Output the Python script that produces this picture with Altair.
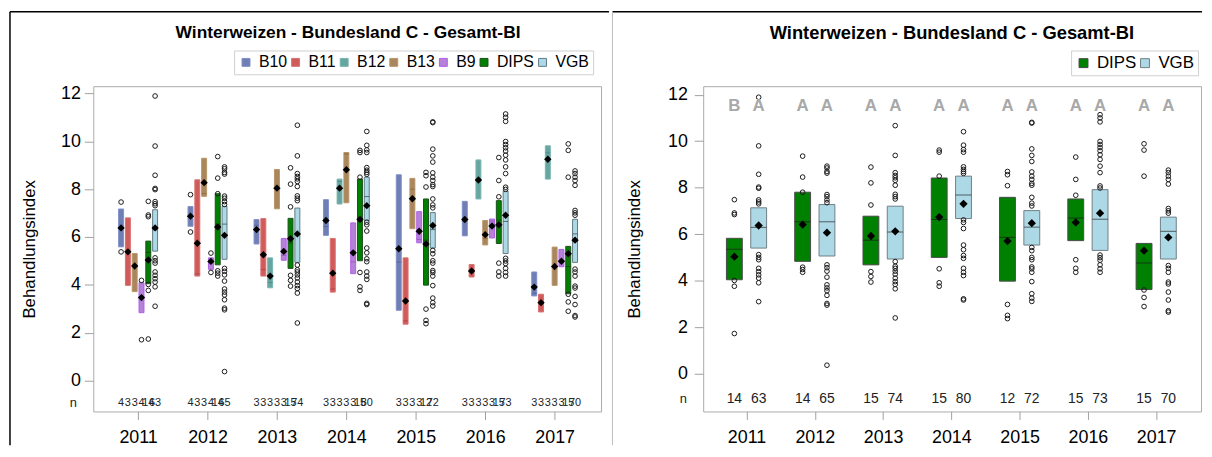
import altair as alt
import pandas as pd

years = [2011, 2012, 2013, 2014, 2015, 2016, 2017]
groups_left = ["B10", "B11", "B12", "B13", "B9", "DIPS", "VGB"]
groups_right = ["DIPS", "VGB"]
title_head = "Winterweizen - Bundesland C -"
title_tail = "Gesamt-BI"

# ---- sample sizes (None = group not present in that year)
n_B10 = [4, 4, 3, 3, 3, 3, 3]
n_B11 = [3, 3, 3, 3, 3, 3, 3]
n_B12 = [None, None, 3, 3, None, 3, 3]
n_B13 = [3, 3, 3, 3, 3, 3, 3]
n_B9 = [4, 4, 3, 3, 3, 3, 3]
n_DIPS = [14, 14, 15, 15, 12, 15, 15]
n_VGB = [63, 65, 74, 80, 72, 73, 70]

# ---- box statistics
q1_B10 = [5.59, 6.45, 5.71, 6.07, 2.94, 6.05, 3.54]
med_B10 = [6.40, 6.85, 6.49, 6.44, 4.95, 6.65, 3.65]
q3_B10 = [7.17, 7.27, 6.73, 7.56, 8.60, 7.49, 4.54]
mean_B10 = [6.38, 6.87, 6.31, 6.69, 5.51, 6.73, 3.91]
out_B10 = [[7.46, 5.38], [7.77, 6.21], [], [], [], [], []]

q1_B11 = [3.98, 4.37, 4.37, 3.70, 2.36, 4.33, 2.87]
med_B11 = [5.36, 4.46, 4.64, 3.83, 2.50, 4.56, 3.30]
q3_B11 = [6.80, 8.39, 6.77, 5.94, 5.13, 4.85, 3.61]
mean_B11 = [5.38, 5.74, 5.26, 4.49, 3.33, 4.58, 3.26]
out_B11 = [[], [], [], [], [], [], []]

q1_B12 = [None, None, 3.88, 7.38, None, 7.59, 8.42]
med_B12 = [None, None, 4.10, 8.32, None, 8.33, 9.52]
q3_B12 = [None, None, 5.13, 8.42, None, 9.22, 9.81]
mean_B12 = [None, None, 4.37, 8.04, None, 8.38, 9.25]
out_B12 = [[], [], [], [], [], [], []]

q1_B13 = [3.72, 7.70, 7.18, 7.43, 6.35, 5.67, 3.98]
med_B13 = [4.85, 7.82, 8.12, 9.47, 8.00, 5.94, 4.75]
q3_B13 = [5.31, 9.29, 8.82, 9.53, 8.45, 6.69, 5.58]
mean_B13 = [4.79, 8.27, 8.04, 8.81, 7.60, 6.10, 4.77]
out_B13 = [[], [], [], [], [], [], []]

q1_B9 = [2.84, 4.65, 5.03, 4.47, 5.76, 5.96, 4.76]
med_B9 = [3.50, 4.95, 5.23, 4.96, 5.90, 6.67, 4.95]
q3_B9 = [4.09, 5.13, 5.94, 6.59, 7.06, 6.75, 5.48]
mean_B9 = [3.47, 4.98, 5.40, 5.34, 6.24, 6.46, 4.99]
out_B9 = [[4.19, 1.71], [5.33, 4.52], [], [], [], [], []]

q1_DIPS = [4.05, 4.84, 4.69, 5.01, 3.99, 5.73, 3.63]
med_DIPS = [5.36, 6.54, 5.75, 6.64, 5.87, 6.70, 4.77]
q3_DIPS = [5.83, 7.81, 6.78, 8.42, 7.59, 7.52, 5.61]
mean_DIPS = [5.04, 6.42, 5.93, 6.74, 5.71, 6.51, 5.30]
out_DIPS = [
    [7.49, 6.92, 6.85, 4.02, 3.77, 1.74],
    [9.36, 8.46, 7.81, 4.59, 4.49, 4.37],
    [8.89, 8.21, 7.26, 4.40, 4.19, 3.95],
    [9.62, 9.53, 8.50, 4.52, 3.92, 3.77],
    [8.70, 8.56, 8.09, 2.99, 2.52, 2.38],
    [9.32, 8.36, 7.68, 4.91, 4.54, 4.37],
    [9.89, 9.62, 8.50, 3.61, 3.29, 2.90],
]

q1_VGB = [5.41, 5.07, 4.94, 6.68, 5.54, 5.31, 4.94]
med_VGB = [6.30, 6.54, 6.10, 7.69, 6.31, 6.65, 6.13]
q3_VGB = [7.14, 7.28, 7.21, 8.50, 7.02, 7.92, 6.74]
mean_VGB = [6.38, 6.07, 6.13, 7.31, 6.48, 6.91, 5.87]
out_VGB = [
    [11.89, 9.80, 8.58, 8.03, 7.98, 7.48, 7.39, 7.31, 5.13, 5.01, 4.91, 4.54, 4.40, 4.26, 4.12, 3.92, 3.11],
    [8.93, 8.85, 8.70, 8.63, 7.71, 7.62, 7.48, 7.36, 4.69, 4.57, 4.42, 4.16, 3.83, 3.70, 3.58, 3.38, 3.03, 2.96, 0.38],
    [10.67, 9.39, 8.65, 8.53, 8.43, 8.32, 8.11, 7.72, 7.62, 7.52, 4.83, 4.63, 4.54, 4.42, 4.29, 4.12, 3.97, 3.85, 3.66, 2.41],
    [10.41, 9.83, 9.64, 9.53, 8.90, 8.79, 8.70, 8.62, 6.62, 6.51, 6.25, 5.54, 5.34, 5.09, 4.97, 4.54, 4.37, 4.23, 3.23, 3.18],
    [10.81, 10.78, 9.67, 9.39, 9.13, 8.68, 8.50, 8.36, 8.19, 8.11, 7.59, 7.34, 7.22, 5.44, 5.30, 5.01, 4.91, 4.60, 4.52, 4.37, 3.97, 3.45, 3.26, 3.12],
    [11.14, 11.00, 10.83, 9.99, 9.86, 9.73, 9.59, 9.42, 9.22, 8.93, 8.65, 8.08, 7.99, 5.11, 5.00, 4.89, 4.69, 4.52, 4.37],
    [8.76, 8.65, 8.50, 8.36, 8.16, 7.11, 7.01, 6.91, 4.66, 4.54, 4.37, 3.95, 3.87, 3.52, 3.18, 2.72, 2.66],
]

# significance letters (right panel)
letters_DIPS = ["B", "A", "A", "A", "A", "A", "A"]
letters_VGB = ["A", "A", "A", "A", "A", "A", "A"]

stats = {
    "B10": dict(n=n_B10, q1=q1_B10, med=med_B10, q3=q3_B10, mean=mean_B10, out=out_B10),
    "B11": dict(n=n_B11, q1=q1_B11, med=med_B11, q3=q3_B11, mean=mean_B11, out=out_B11),
    "B12": dict(n=n_B12, q1=q1_B12, med=med_B12, q3=q3_B12, mean=mean_B12, out=out_B12),
    "B13": dict(n=n_B13, q1=q1_B13, med=med_B13, q3=q3_B13, mean=mean_B13, out=out_B13),
    "B9": dict(n=n_B9, q1=q1_B9, med=med_B9, q3=q3_B9, mean=mean_B9, out=out_B9),
    "DIPS": dict(n=n_DIPS, q1=q1_DIPS, med=med_DIPS, q3=q3_DIPS, mean=mean_DIPS, out=out_DIPS),
    "VGB": dict(n=n_VGB, q1=q1_VGB, med=med_VGB, q3=q3_VGB, mean=mean_VGB, out=out_VGB),
}
letters = {"DIPS": letters_DIPS, "VGB": letters_VGB}

FONT = "Liberation Sans"
# Arial-bold em widths of the two title pieces and the joining space
EM_HEAD, EM_SPACE, EM_TAIL = 14.613, 0.278, 5.001


def build(groups, spacing):
    rows, outs = [], []
    for i, yr in enumerate(years):
        present = [g for g in groups if stats[g]["n"][i] is not None]
        k = len(present)
        for r, g in enumerate(present):
            s = stats[g]
            pos = i + (r - (k - 1) / 2) * spacing
            rows.append(dict(grp=g, year=yr, pos=pos, q1=s["q1"][i], med=s["med"][i],
                             q3=s["q3"][i], mean=s["mean"][i], n=s["n"][i],
                             letter=letters.get(g, [""] * 7)[i]))
            for v in s["out"][i]:
                outs.append(dict(grp=g, pos=pos, val=v))
    return pd.DataFrame(rows), pd.DataFrame(outs)


label_expr = "[" + ",".join("'%d'" % y for y in years) + "][datum.value]"
deco = pd.DataFrame({"d": [0]})
head_df = pd.DataFrame({"t": [title_head]})
tail_df = pd.DataFrame({"t": [title_tail]})

H = 328


def panel(groups, fills, strokes, medcols, spacing, box_w, mean_size, xdom, ydom,
          width, n_font, n_y, title_size, title_center, legend_x, leg_font, leg_sym,
          leg_off, frame_left, frame_right, left_black, ytitle_pad, ylab_pad, show_letters):
    box, out = build(groups, spacing)
    xs = alt.Scale(domain=xdom, nice=False, zero=False)
    ys = alt.Scale(domain=ydom, nice=False, zero=False)
    xax = alt.Axis(values=list(range(len(years))), labelExpr=label_expr, title=None,
                   grid=False, domain=False, tickSize=8, tickColor="#A0A0A0",
                   labelFontSize=18, labelColor="black", labelPadding=9,
                   labelFlush=False, labelOverlap=False)
    yax = alt.Axis(values=[0, 2, 4, 6, 8, 10, 12], title="Behandlungsindex",
                   titleFontSize=17, titleFontWeight="normal", titleColor="black",
                   titlePadding=ytitle_pad, grid=False, domain=False, tickSize=9,
                   tickColor="#A0A0A0", labelFontSize=18, labelColor="black",
                   labelPadding=ylab_pad)
    X = alt.X("pos:Q", scale=xs, axis=xax)

    leg = alt.Legend(orient="none", legendX=legend_x, legendY=-36, direction="horizontal",
                     title=None, labelFontSize=leg_font, labelColor="black", symbolType="square",
                     symbolSize=leg_sym, symbolStrokeWidth=1, labelOffset=leg_off,
                     columnPadding=0, padding=4, strokeColor="#CFCFCF", gridAlign="each")

    bars = alt.Chart(box).mark_bar(width=box_w, strokeWidth=1).encode(
        x=X,
        y=alt.Y("q1:Q", scale=ys, axis=yax),
        y2="q3:Q",
        fill=alt.Fill("grp:N", scale=alt.Scale(domain=groups, range=fills), legend=leg),
        stroke=alt.Stroke("grp:N", scale=alt.Scale(domain=groups, range=strokes), legend=leg),
    )
    meds = alt.Chart(box).mark_tick(orient="horizontal", size=box_w, thickness=1).encode(
        x=X,
        y=alt.Y("med:Q", scale=ys, axis=yax),
        color=alt.Color("grp:N", scale=alt.Scale(domain=groups, range=medcols), legend=None),
    )
    outl = alt.Chart(out).mark_point(shape="circle", filled=False, size=22, strokeWidth=1,
                                     color="#1a1a1a", opacity=1).encode(
        x=X, y=alt.Y("val:Q", scale=ys, axis=yax))
    means = alt.Chart(box).mark_point(shape="diamond", filled=True, size=mean_size,
                                      color="black", opacity=1).encode(
        x=X, y=alt.Y("mean:Q", scale=ys, axis=yax))
    ntext = alt.Chart(box).mark_text(fontSize=n_font, color="#222222", baseline="middle").encode(
        x=X, y=alt.value(n_y), text="n:Q")
    nlab = alt.Chart(deco).mark_text(fontSize=13, color="#222222", baseline="middle").encode(
        x=alt.value(-20), y=alt.value(n_y), text=alt.value("n"))

    # title, written as two adjoining pieces so it stays centred on the panel
    total = (EM_HEAD + EM_SPACE + EM_TAIL) * title_size
    x_join = title_center - total / 2 + EM_HEAD * title_size
    t_head = alt.Chart(head_df).mark_text(fontSize=title_size, fontWeight="bold", color="black",
                                          baseline="middle", align="right").encode(
        x=alt.value(x_join), y=alt.value(-54), text="t:N")
    t_tail = alt.Chart(tail_df).mark_text(fontSize=title_size, fontWeight="bold", color="black",
                                          baseline="middle", align="left").encode(
        x=alt.value(x_join + EM_SPACE * title_size), y=alt.value(-54), text="t:N")

    top_rule = alt.Chart(deco).mark_rule(color="black", strokeWidth=1.5).encode(
        x=alt.value(frame_left), x2=alt.value(frame_right), y=alt.value(-75))
    side_rule = alt.Chart(deco).mark_rule(color="black" if left_black else "#BBBBBB",
                                          strokeWidth=1.5 if left_black else 1).encode(
        x=alt.value(frame_left), y=alt.value(-75), y2=alt.value(362))

    layers = [top_rule, side_rule, t_head, t_tail, bars, meds, outl, means, ntext, nlab]
    if show_letters:
        lets = alt.Chart(box).mark_text(fontSize=17, fontWeight="bold", color="#A8A8A8",
                                        baseline="middle").encode(
            x=X, y=alt.value(20.5), text="letter:N")
        layers.append(lets)

    return alt.layer(*layers).properties(width=width, height=H)


left = panel(
    groups_left,
    fills=["#6F7EB3", "#D05B5B", "#66A5A0", "#A9865B", "#B681D8", "#008000", "#ADD8E6"],
    strokes=["#7F8FC8", "#DB7070", "#78B5B0", "#B8966A", "#B060E6", "#1F4F1F", "#5F7A84"],
    medcols=["#4F5E96", "#A84040", "#4A8580", "#86663D", "#8E4FB8", "#0A3A0A", "#2F3F45"],
    spacing=0.098, box_w=5, mean_size=55,
    xdom=[-0.574, 6.597], ydom=[-1.286, 12.30], width=512,
    n_font=11, n_y=319, title_size=17.5, title_center=256.75, legend_x=142, leg_font=16,
    leg_sym=64, leg_off=5,
    frame_left=-84, frame_right=520, left_black=True, ytitle_pad=22, ylab_pad=4,
    show_letters=False,
)

right = panel(
    groups_right,
    fills=["#008000", "#ADD8E6"],
    strokes=["#4A4A4A", "#6F7F86"],
    medcols=["#1A1A1A", "#2A2A2A"],
    spacing=0.356, box_w=16, mean_size=70,
    xdom=[-0.562, 6.584], ydom=[-1.608, 12.364], width=502,
    n_font=14, n_y=315, title_size=18.5, title_center=250.6, legend_x=371, leg_font=17,
    leg_sym=81, leg_off=5,
    frame_left=-91.5, frame_right=503, left_black=False, ytitle_pad=24, ylab_pad=7,
    show_letters=True,
)

chart = alt.hconcat(left, right, spacing=0).resolve_scale(
    fill="independent", stroke="independent", color="independent",
    x="independent", y="independent",
).resolve_legend(fill="independent", stroke="independent").properties(
    padding=0,
).configure(font=FONT, background="white").configure_view(
    stroke="#ABABAB", strokeWidth=1,
)

chart.save("out.html", embed_options={"renderer": "svg", "actions": False})
